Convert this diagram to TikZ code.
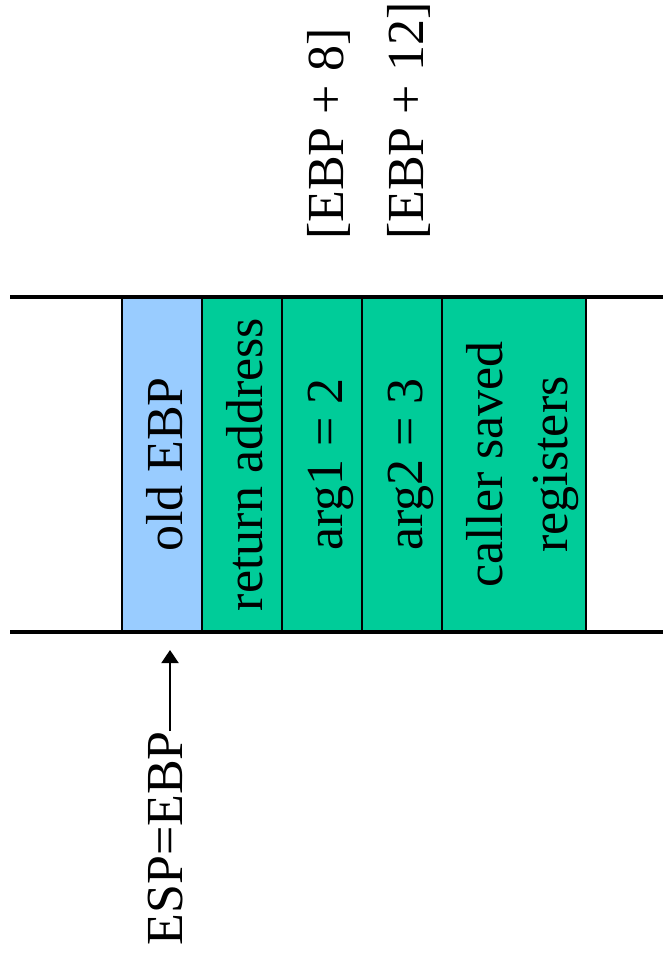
\documentclass[tikz,border=0pt]{standalone}
\usepackage{fontspec}
\setmainfont{Liberation Serif}
\usetikzlibrary{arrows.meta}
\definecolor{oldframe}{HTML}{99CCFF}
\definecolor{callerframe}{HTML}{00CC99}
\tikzset{
  slot/.style={draw=black, line width=2pt, minimum width=80pt,
    minimum height=335pt, inner sep=0pt, outer sep=0pt},
  vtext/.style={rotate=90, anchor=base, inner sep=0pt,
    font=\fontsize{52}{60}\selectfont},
  offlabel/.style={vtext, anchor=base west},
  ptr/.style={line width=2pt, -{Triangle[length=13pt,width=17pt]}},
  bound/.style={line width=4pt}
}
\begin{document}
\begin{tikzpicture}[x=1pt,y=1pt]
\useasboundingbox (0,0) rectangle (663,-961);

% stack slots, low addresses on the left
\node[slot, fill=oldframe]    (ebp)   at (162,-464.5) {};
\node[slot, fill=callerframe] (ret)   at (242,-464.5) {};
\node[slot, fill=callerframe] (arga)  at (322,-464.5) {};
\node[slot, fill=callerframe] (argb)  at (402,-464.5) {};
\node[slot, fill=callerframe, minimum width=144pt] (saved) at (514,-464.5) {};

% stack boundaries
\draw[bound] (10,-297) -- (663,-297);
\draw[bound] (10,-632) -- (663,-632);

% slot contents
\node[vtext] (ebpT)   at ([xshift=20pt]ebp.center)   {old EBP};
\node[vtext] (retT)   at ([xshift=20pt]ret.center)   {return address};
\node[vtext] (argaT)  at ([xshift=20pt]arga.center)  {arg1 = 2};
\node[vtext] (argbT)  at ([xshift=20pt]argb.center)  {arg2 = 3};
\node[vtext] (savedA) at ([xshift=-12pt]saved.center) {caller saved};
\node[vtext] (savedB) at ([xshift=53pt]saved.center)  {registers};

% frame-pointer offsets
\node[offlabel] (p8)  at (343,-240) {[EBP + 8]};
\node[offlabel] (p12) at (423,-240) {[EBP + 12]};

% stack pointer
\node[vtext, anchor=base east] (esp) at (182,-731) {ESP=EBP};
\coordinate (spTip) at (170,-650);
\draw[ptr] (esp.east -| spTip) -- (spTip);
\end{tikzpicture}
\end{document}
